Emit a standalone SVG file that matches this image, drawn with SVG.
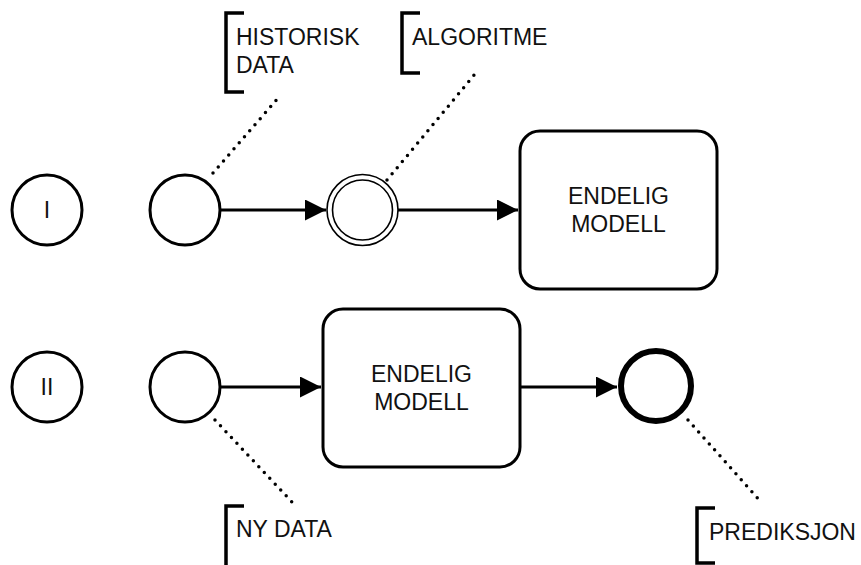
<svg xmlns="http://www.w3.org/2000/svg" width="861" height="565" viewBox="0 0 861 565">
<style>
.bg{fill:#fff}
.node{fill:#fff;stroke:#000;stroke-width:3}
.thin{fill:#fff;stroke:#000;stroke-width:1.6}
.thick{fill:#fff;stroke:#000;stroke-width:6}
.flow{fill:none;stroke:#000;stroke-width:3}
.dot{fill:none;stroke:#000;stroke-width:3.5;stroke-linecap:round;stroke-dasharray:0 8}
.br{fill:none;stroke:#000;stroke-width:3.5}
text{font-family:"Liberation Sans",Arial,sans-serif;font-size:23px;fill:#111}
.c{text-anchor:middle}
</style>
<defs>
<marker id="arr" markerWidth="8" markerHeight="8" refX="7" refY="3.5" orient="auto" markerUnits="strokeWidth">
<path d="M0,0 L7,3.5 L0,7 Z" fill="#000"/>
</marker>
</defs>
<rect class="bg" width="861" height="565"/>
<g id="connectors">
<line class="flow" x1="220" y1="210" x2="326" y2="210" marker-end="url(#arr)"/>
<line class="flow" x1="398" y1="210" x2="518" y2="210" marker-end="url(#arr)"/>
<line class="flow" x1="220" y1="387" x2="321" y2="387" marker-end="url(#arr)"/>
<line class="flow" x1="520" y1="387" x2="617" y2="387" marker-end="url(#arr)"/>
<line class="dot" x1="213" y1="173" x2="279" y2="97"/>
<line class="dot" x1="387" y1="180" x2="475" y2="74"/>
<line class="dot" x1="215" y1="420" x2="292" y2="502"/>
<line class="dot" x1="688" y1="420" x2="762" y2="503"/>
</g>
<g id="lane1">
<circle class="node" cx="47" cy="210" r="35"/>
<text class="c" x="47" y="218">I</text>
</g>
<g id="lane2">
<circle class="node" cx="47" cy="387" r="35"/>
<text class="c" x="47" y="395">II</text>
</g>
<g id="start1"><circle class="node" cx="185" cy="210" r="35"/></g>
<g id="algo">
<circle class="thin" cx="362.5" cy="210" r="35.5"/>
<circle class="thin" cx="362.5" cy="210" r="30"/>
</g>
<g id="model1">
<rect class="node" x="520" y="131" width="197" height="158" rx="20"/>
<text class="c" x="618.5" y="204">ENDELIG</text>
<text class="c" x="618.5" y="232">MODELL</text>
</g>
<g id="start2"><circle class="node" cx="185" cy="387" r="35"/></g>
<g id="model2">
<rect class="node" x="323" y="309" width="197" height="158" rx="20"/>
<text class="c" x="421.5" y="382">ENDELIG</text>
<text class="c" x="421.5" y="410">MODELL</text>
</g>
<g id="end"><circle class="thick" cx="656" cy="386" r="35"/></g>
<g id="ann-historisk">
<path class="br" d="M244,13 H226 V92 H244"/>
<text x="236" y="45">HISTORISK</text>
<text x="236" y="73">DATA</text>
</g>
<g id="ann-algoritme">
<path class="br" d="M420,13 H402 V73 H420"/>
<text x="412" y="45">ALGORITME</text>
</g>
<g id="ann-nydata">
<path class="br" d="M244,506 H226 V570 H244"/>
<text x="236" y="537">NY DATA</text>
</g>
<g id="ann-prediksjon">
<path class="br" d="M715,508 H697 V563 H715"/>
<text x="709" y="540">PREDIKSJON</text>
</g>
</svg>
